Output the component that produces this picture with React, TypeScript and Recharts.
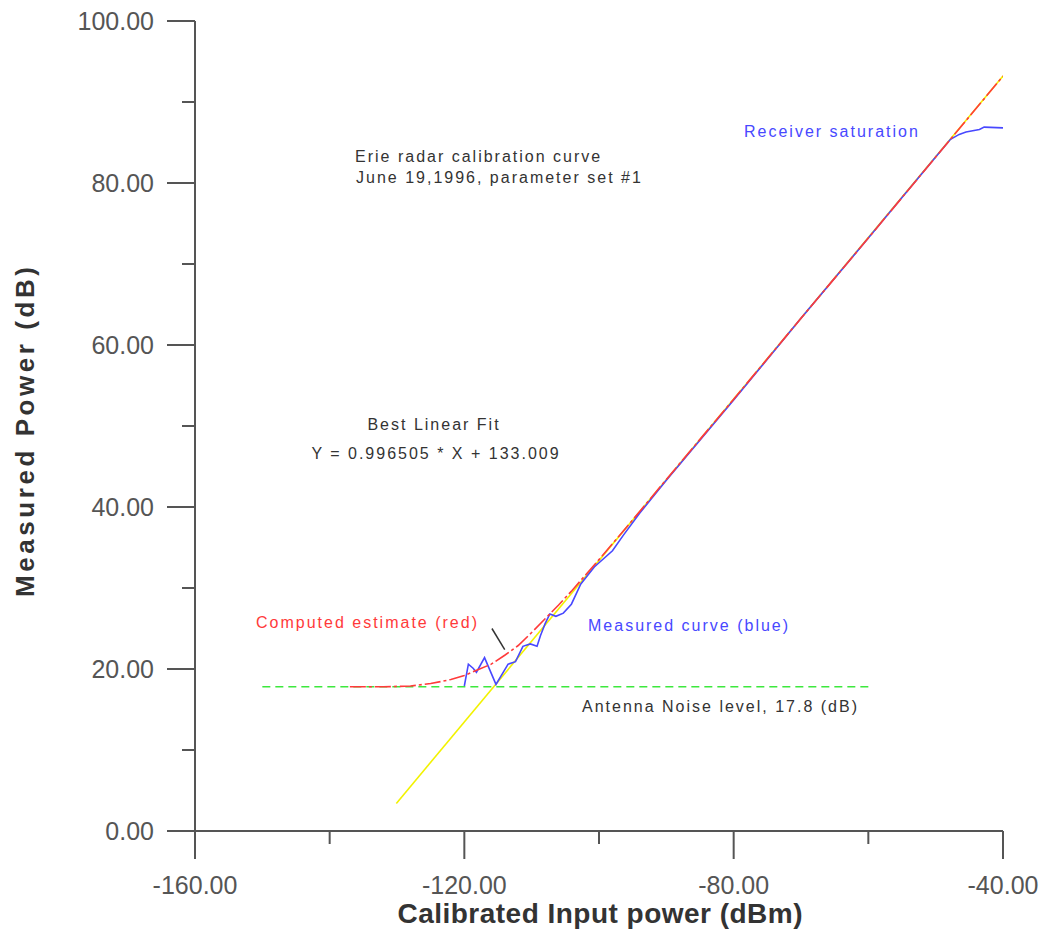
import React from 'react';
import { LineChart, Line, XAxis, YAxis, ReferenceLine } from 'recharts';

// Calibration data (June 19, 1996)
const X_TICKS = [-160, -140, -120, -100, -80, -60, -40];
const X_MAJOR = [-160, -120, -80, -40];
const Y_TICKS = [0, 10, 20, 30, 40, 50, 60, 70, 80, 90, 100];
const Y_MAJOR = [0, 20, 40, 60, 80, 100];

// best linear fit end points (yellow)
const fitLine = [
    { x: -130.1, y: 3.4 },
    { x: -40, y: 93.2 },
];

// antenna noise level (green dashed)
const noiseLine = [
    { x: -150, y: 17.8 },
    { x: -59.5, y: 17.8 },
];

// computed estimate (red)
const computed = [
    { x: -137, y: 17.8 }, { x: -132, y: 17.8 }, { x: -128, y: 17.9 }, { x: -125, y: 18.2 },
    { x: -122, y: 18.7 }, { x: -120, y: 19.2 }, { x: -118, y: 19.9 }, { x: -116, y: 20.6 },
    { x: -114, y: 21.7 }, { x: -112, y: 22.9 }, { x: -110, y: 24.5 }, { x: -108, y: 26.2 },
    { x: -106, y: 27.9 }, { x: -104, y: 29.7 }, { x: -102, y: 31.6 }, { x: -100, y: 33.5 },
    { x: -95, y: 38.4 }, { x: -90, y: 43.4 }, { x: -80, y: 53.3 }, { x: -70, y: 63.3 },
    { x: -60, y: 73.2 }, { x: -50, y: 83.2 }, { x: -40, y: 93.2 },
];

// measured curve (blue)
const measured = [
    { x: -120.0, y: 17.9 }, { x: -119.4, y: 20.6 }, { x: -118.7, y: 20.1 }, { x: -118.2, y: 19.6 },
    { x: -117.0, y: 21.4 }, { x: -115.3, y: 18.1 }, { x: -113.5, y: 20.6 }, { x: -112.4, y: 20.9 },
    { x: -111.3, y: 22.8 }, { x: -110.2, y: 23.1 }, { x: -109.2, y: 22.8 }, { x: -108.7, y: 24.1 },
    { x: -108.0, y: 25.6 }, { x: -107.3, y: 26.8 }, { x: -106.4, y: 26.5 }, { x: -105.3, y: 26.9 },
    { x: -104.1, y: 28.0 }, { x: -102.7, y: 30.5 }, { x: -100.7, y: 32.6 }, { x: -98, y: 34.6 },
    { x: -96.4, y: 36.5 }, { x: -94, y: 39.2 }, { x: -90, y: 43.3 }, { x: -80, y: 53.2 },
    { x: -70, y: 63.3 }, { x: -60, y: 73.2 }, { x: -50, y: 83.2 }, { x: -47.8, y: 85.4 },
    { x: -46.5, y: 86.0 }, { x: -45.5, y: 86.3 }, { x: -43.5, y: 86.6 }, { x: -42.8, y: 86.9 },
    { x: -40, y: 86.8 },
];

// leader line from the "(red)" label to the red curve
const leader = [
    { x: -115.9, y: 25.0 },
    { x: -114.0, y: 22.4 },
];

const AXIS = '#555';
const TICK_FONT = '"Liberation Sans", Arial, sans-serif';

const XTick = (props: any) => {
    const { x, y, payload } = props;
    const major = X_MAJOR.includes(payload.value);
    return (
        <g>
            <line x1={x} y1={y} x2={x} y2={y + (major ? 28 : 13)} stroke={AXIS} strokeWidth={2} />
            {major && (
                <text x={x} y={y + 63} textAnchor="middle" fill="#555" fontSize={25} fontFamily={TICK_FONT}>
                    {payload.value.toFixed(2)}
                </text>
            )}
        </g>
    );
};

const YTick = (props: any) => {
    const { x, y, payload } = props;
    const major = Y_MAJOR.includes(payload.value);
    return (
        <g>
            <line x1={x - (major ? 28 : 13)} y1={y} x2={x} y2={y} stroke={AXIS} strokeWidth={2} />
            {major && (
                <text x={x - 41} y={y + 9} textAnchor="end" fill="#555" fontSize={25} fontFamily={TICK_FONT}>
                    {payload.value.toFixed(2)}
                </text>
            )}
        </g>
    );
};

const noteStyle = { fontFamily: TICK_FONT, fontSize: 16, letterSpacing: 2 } as const;

export default function App() {
    return (
        <div style={{ position: 'relative', width: 1044, height: 932, overflow: 'hidden', background: '#fff' }}>
            <style>{'body{margin:0}'}</style>
            <LineChart width={1044} height={932} margin={{ top: 21, right: 41, bottom: 0, left: 0 }}>
                <XAxis
                    type="number"
                    dataKey="x"
                    domain={[-160, -40]}
                    ticks={X_TICKS}
                    height={101}
                    tickSize={0}
                    tickMargin={0}
                    tickLine={false}
                    axisLine={{ stroke: AXIS, strokeWidth: 2 }}
                    tick={<XTick />}
                    interval={0}
                    allowDataOverflow
                />
                <YAxis
                    type="number"
                    domain={[0, 100]}
                    ticks={Y_TICKS}
                    width={195}
                    tickSize={0}
                    tickMargin={0}
                    tickLine={false}
                    axisLine={{ stroke: AXIS, strokeWidth: 2 }}
                    tick={<YTick />}
                    interval={0}
                    allowDataOverflow
                />
                <Line data={noiseLine} dataKey="y" stroke="#3de83d" strokeWidth={1.5} strokeDasharray="8 5" dot={false} isAnimationActive={false} />
                <Line data={fitLine} dataKey="y" stroke="#f2f200" strokeWidth={1.6} dot={false} isAnimationActive={false} />
                <Line data={measured} dataKey="y" stroke="#4848ff" strokeWidth={1.6} dot={false} isAnimationActive={false} />
                <Line data={computed} dataKey="y" stroke="#ff3a3a" strokeWidth={1.6} strokeDasharray="16 3 3 3" dot={false} isAnimationActive={false} />
                <ReferenceLine segment={leader} stroke="#333" strokeWidth={1.5} ifOverflow="visible" />
            </LineChart>
            <svg width={1044} height={932} style={{ position: 'absolute', left: 0, top: 0, pointerEvents: 'none' }}>
                <text x={355} y={162} fill="#333" {...noteStyle}>Erie radar calibration curve</text>
                <text x={356} y={183} fill="#333" {...noteStyle}>June 19,1996, parameter set #1</text>
                <text x={434} y={430} fill="#333" textAnchor="middle" {...noteStyle}>Best Linear Fit</text>
                <text x={436} y={459} fill="#333" textAnchor="middle" {...noteStyle}>Y = 0.996505 * X  + 133.009</text>
                <text x={256} y={628} fill="#ff3a3a" {...noteStyle}>Computed estimate (red)</text>
                <text x={588} y={631} fill="#4848ff" {...noteStyle}>Measured curve (blue)</text>
                <text x={582} y={712} fill="#333" {...noteStyle}>Antenna Noise level, 17.8 (dB)</text>
                <text x={744} y={137} fill="#4848ff" {...noteStyle}>Receiver saturation</text>
                <text x={600} y={923} fill="#333" textAnchor="middle" fontFamily={TICK_FONT} fontSize={28} fontWeight="bold" textLength={405} lengthAdjust="spacing">
                    Calibrated Input power (dBm)
                </text>
                <text transform="translate(34, 432) rotate(-90)" fill="#333" textAnchor="middle" fontFamily={TICK_FONT} fontSize={26} fontWeight="bold" textLength={330} lengthAdjust="spacing">
                    Measured  Power (dB)
                </text>
            </svg>
        </div>
    );
}
